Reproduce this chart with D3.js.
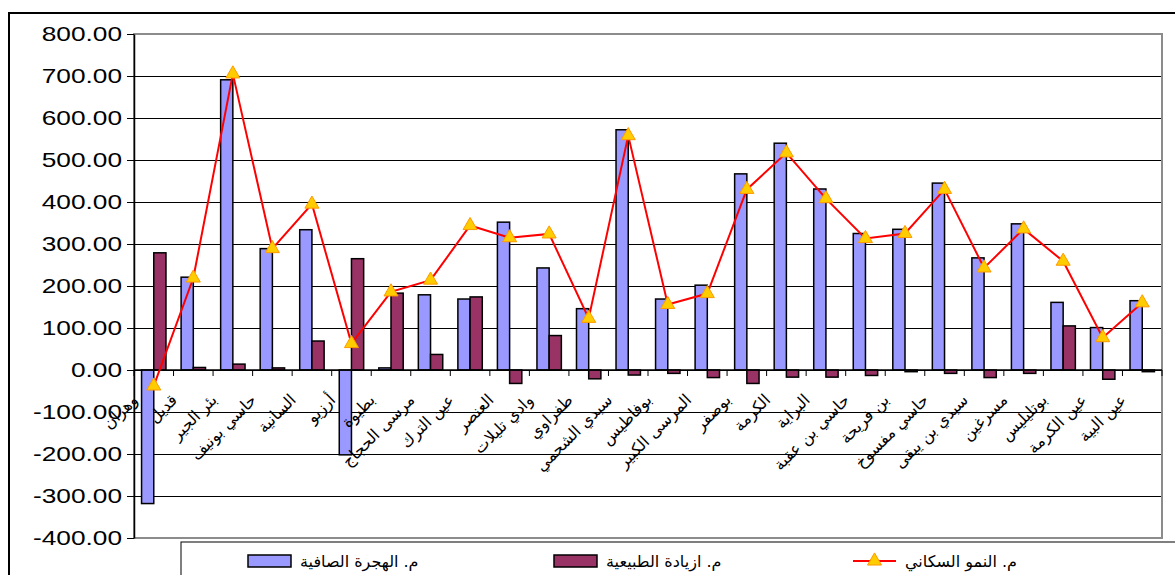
<!DOCTYPE html>
<html>
<head>
<meta charset="utf-8">
<script src="https://cdn.jsdelivr.net/npm/d3@7"></script>
<style>
  body { margin: 0; background: #fff; }
  svg { display: block; }
</style>
</head>
<body>
<div id="chart"></div>
<script>
const categories = ["وهران", "قديل", "بئر الجير", "حاسي بونيف", "السانية", "أرزيو", "بطيوة", "مرسى الحجاج",
  "عين الترك", "العنصر", "وادي تليلات", "طفراوي", "سيدي الشحمي", "بوفاطيس", "المرسى الكبير", "بوصفر",
  "الكرمة", "البراية", "حاسي بن عقبة", "بن فريحة", "حاسي مفسوخ", "سيدي بن يبقى", "مسرغين", "بوتليليس",
  "عين الكرمة", "عين البية"];
const netMigration = [-318, 221, 691, 289, 334, -202, 5, 179, 169, 352, 243, 146, 572, 169, 202, 467,
  540, 431, 325, 335, 445, 267, 348, 161, 101, 165];
const naturalIncrease = [279, 6, 14, 5, 69, 265, 183, 37, 174, -32, 82, -21, -12, -8, -18, -32,
  -17, -17, -13, -4, -8, -18, -8, 105, -22, -4];
const popGrowth = [-38, 219, 705, 289, 395, 63, 186, 214, 344, 315, 324, 123, 558, 156, 182, 430,
  517, 408, 313, 325, 430, 243, 336, 259, 77, 160];
const yTicks = [-400, -300, -200, -100, 0, 100, 200, 300, 400, 500, 600, 700, 800];
const seriesNames = ["م. الهجرة الصافية", "م. ازيادة الطبيعية", "م. النمو السكاني"];

const width = 1175, height = 575;
const plot = { left: 134, right: 1162, top: 34, bottom: 538 };
const colors = { mig: "#9999FF", nat: "#993366", line: "#FF0000", marker: "#FFCC00", markerStroke: "#FF9900" };
const arabicFont = "'DejaVu Sans', sans-serif";

const svg = d3.select("#chart").append("svg")
  .attr("width", width).attr("height", height);

// chart area border (runs off the right / bottom of the picture)
svg.append("rect")
  .attr("x", 9).attr("y", 13).attr("width", 1300).attr("height", 700)
  .attr("fill", "#fff").attr("stroke", "#000").attr("stroke-width", 2);

const x = d3.scaleBand().domain(categories).range([plot.left, plot.right]);
const xSub = d3.scaleBand().domain(["mig", "nat"]).range([0, x.bandwidth()]).paddingOuter(0.62);
const y = d3.scaleLinear().domain([-400, 800]).range([plot.bottom, plot.top]);

// gridlines
svg.append("g")
  .selectAll("line")
  .data(yTicks.filter(d => d > -400 && d < 800))
  .join("line")
  .attr("x1", plot.left).attr("x2", plot.right)
  .attr("y1", d => Math.round(y(d)) + 0.5).attr("y2", d => Math.round(y(d)) + 0.5)
  .attr("stroke", "#000").attr("stroke-width", 1);

// plot area frame
svg.append("rect")
  .attr("x", plot.left).attr("y", plot.top)
  .attr("width", plot.right - plot.left).attr("height", plot.bottom - plot.top)
  .attr("fill", "none").attr("stroke", "#8c8c8c").attr("stroke-width", 2);

// bars
const rows = categories.map((c, i) => ({ c, mig: netMigration[i], nat: naturalIncrease[i], growth: popGrowth[i] }));

["mig", "nat"].forEach(key => {
  svg.append("g")
    .selectAll("rect")
    .data(rows)
    .join("rect")
    .attr("x", d => x(d.c) + xSub(key))
    .attr("width", xSub.bandwidth())
    .attr("y", d => y(Math.max(0, d[key])))
    .attr("height", d => Math.abs(y(d[key]) - y(0)))
    .attr("fill", colors[key])
    .attr("stroke", "#000").attr("stroke-width", 1.5);
});

// x axis at zero
const y0 = y(0);
svg.append("line")
  .attr("x1", plot.left).attr("x2", plot.right).attr("y1", y0).attr("y2", y0)
  .attr("stroke", "#000").attr("stroke-width", 1.5);
svg.append("g")
  .selectAll("line")
  .data(categories.concat([null]))
  .join("line")
  .attr("x1", (d, i) => plot.left + i * x.step()).attr("x2", (d, i) => plot.left + i * x.step())
  .attr("y1", y0).attr("y2", y0 + 6)
  .attr("stroke", "#000").attr("stroke-width", 1);

svg.append("g")
  .selectAll("text")
  .data(categories)
  .join("text")
  .attr("transform", d => `translate(${x(d) + x.bandwidth() / 2 - 19},${y0 + 27}) rotate(-45)`)
  .attr("text-anchor", "end")
  .attr("dy", "0.35em")
  .attr("font-family", arabicFont)
  .attr("font-size", 16)
  .attr("fill", "#000")
  .text(d => d);

// y axis
svg.append("g")
  .attr("transform", `translate(${plot.left},0)`)
  .call(d3.axisLeft(y).tickValues(yTicks).tickFormat(d => d.toFixed(2)).tickSize(7).tickSizeOuter(0))
  .call(g => g.select(".domain").attr("stroke", "#000").attr("stroke-width", 1.5))
  .call(g => g.selectAll(".tick line").attr("stroke", "#000"))
  .call(g => g.selectAll(".tick text")
    .attr("x", -12 / 1.25)
    .attr("transform", "scale(1.25,1)")
    .attr("font-family", "'Liberation Sans', Arial, sans-serif")
    .attr("font-size", 21)
    .attr("fill", "#000"));

// growth line + triangle markers
const line = d3.line()
  .x(d => x(d.c) + x.bandwidth() / 2)
  .y(d => y(d.growth));

svg.append("path")
  .datum(rows)
  .attr("d", line)
  .attr("fill", "none")
  .attr("stroke", colors.line).attr("stroke-width", 2);

const tri = d3.symbol(d3.symbolTriangle, 85);
svg.append("g")
  .selectAll("path")
  .data(rows)
  .join("path")
  .attr("d", tri)
  .attr("transform", d => `translate(${x(d.c) + x.bandwidth() / 2},${y(d.growth)})`)
  .attr("fill", colors.marker)
  .attr("stroke", colors.markerStroke).attr("stroke-width", 1);

// legend
const legend = svg.append("g");
legend.append("rect")
  .attr("x", 181).attr("y", 542).attr("width", 1100).attr("height", 60)
  .attr("fill", "#fff").attr("stroke", "#000").attr("stroke-width", 1);

const legendX = [248, 554, 853];
seriesNames.forEach((name, i) => {
  const g = legend.append("g").attr("transform", `translate(${legendX[i]},561)`);
  if (i < 2) {
    g.append("rect")
      .attr("x", 0).attr("y", -6).attr("width", 43).attr("height", 12)
      .attr("fill", i === 0 ? colors.mig : colors.nat)
      .attr("stroke", "#000").attr("stroke-width", 1.5);
  } else {
    g.append("line").attr("x1", 0).attr("x2", 43).attr("y1", 0).attr("y2", 0)
      .attr("stroke", colors.line).attr("stroke-width", 2);
    g.append("path").attr("d", tri).attr("transform", "translate(21.5,0)")
      .attr("fill", colors.marker).attr("stroke", colors.markerStroke);
  }
  g.append("text")
    .attr("x", 52).attr("dy", "0.35em")
    .attr("font-family", arabicFont).attr("font-size", 16)
    .attr("fill", "#000")
    .text(name);
});
</script>
</body>
</html>
